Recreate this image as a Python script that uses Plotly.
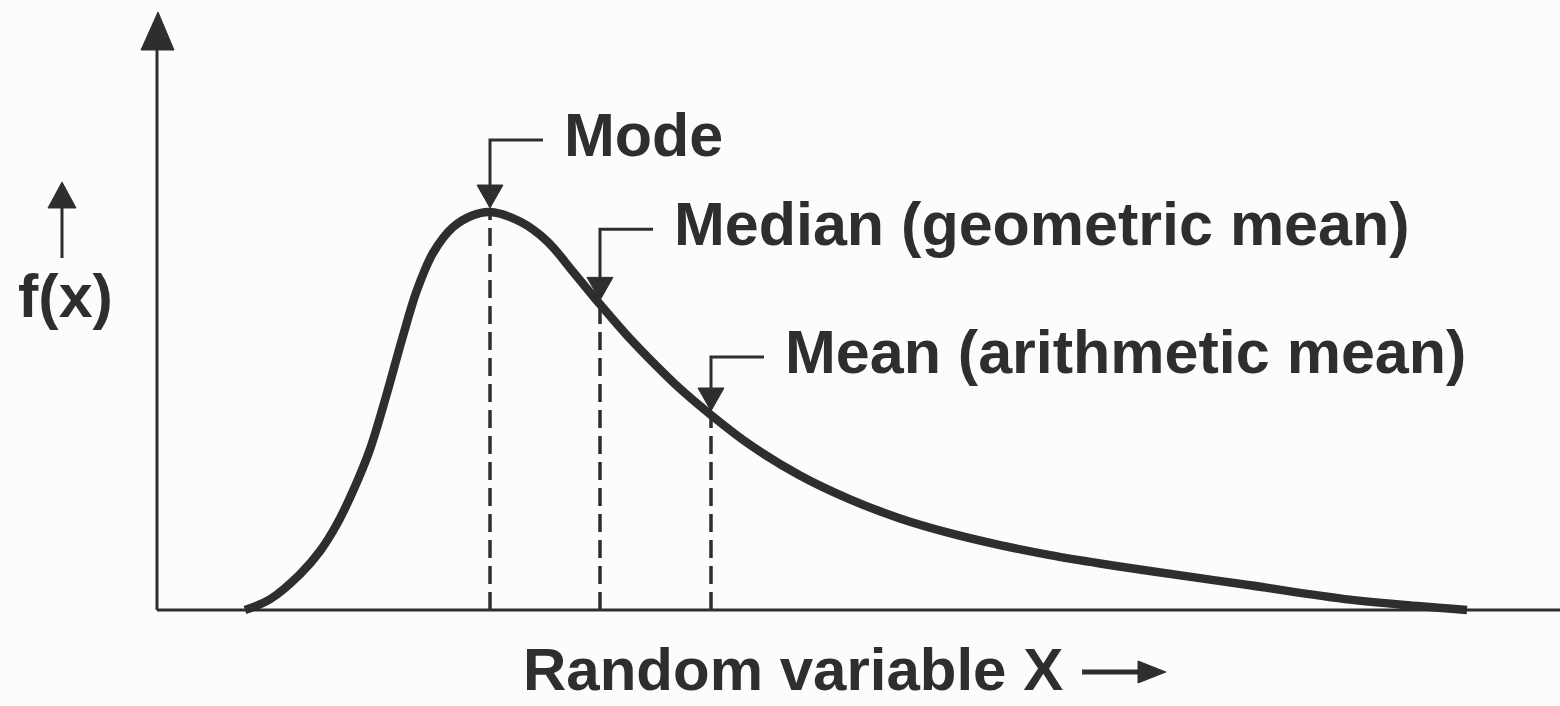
import plotly.graph_objects as go

# Skewed (log-normal shaped) density f(x); x in axis units, f normalised to its peak
curve_x = [0.88, 1.13, 1.43, 1.63, 1.80, 1.96, 2.13, 2.30, 2.45, 2.60, 2.76, 2.96, 3.16, 3.33,
           3.63, 3.90, 4.16, 4.43, 4.70, 4.96, 5.23, 5.54, 5.93, 6.43, 6.93, 7.43, 7.93, 8.43,
           8.93, 9.43, 9.93, 10.93, 11.93, 12.60, 13.10]
curve_y = [0.000, 0.027, 0.090, 0.148, 0.216, 0.299, 0.404, 0.545, 0.680, 0.804, 0.897, 0.962, 0.992, 1.000,
           0.976, 0.927, 0.850, 0.768, 0.690, 0.622, 0.556, 0.490, 0.415, 0.338, 0.278, 0.230, 0.193, 0.163,
           0.138, 0.117, 0.098, 0.062, 0.026, 0.010, 0.000]

# Location statistics marked on the curve
marker_names = ["Mode", "Median (geometric mean)", "Mean (arithmetic mean)"]
marker_x = [3.33, 4.43, 5.54]

y_label = "f(x)"
x_label = "Random variable X"

# ---- page geometry -------------------------------------------------------
W, H = 1560, 706
X0_PX, Y0_PX = 157, 610      # where the origin sits on the page
PX_X, PX_Y = 100.0, 398.0    # pixels per axis unit
INK = "#2e2e2e"
FONT = dict(family="Liberation Sans, Arial, Helvetica, sans-serif", size=61, color=INK, weight="bold")

# bracket arrows: how far above the curve each label sits (px)
label_rise_px = [77, 80, 63]
label_gap_px = 72
bracket_len_px = 53
head_w, head_h = 26, 23


def X(px):
    return (px - X0_PX) / PX_X


def Y(py):
    return (Y0_PX - py) / PX_Y


def px_of(x):
    return X0_PX + x * PX_X


def py_of(y):
    return Y0_PX - y * PX_Y


def tri(points):
    p = [f"{X(a):.4f},{Y(b):.4f}" for a, b in points]
    return "M " + " L ".join(p) + " Z"


marker_y = [curve_y[curve_x.index(m)] for m in marker_x]

fig = go.Figure()

# dashed drop lines from the axis to the curve
for mx, my in zip(marker_x, marker_y):
    fig.add_trace(go.Scatter(x=[mx, mx], y=[0, my - 4 / PX_Y], mode="lines",
                             line=dict(color=INK, width=3.5, dash="18px,8px"),
                             hoverinfo="skip", showlegend=False))

# the density curve
fig.add_trace(go.Scatter(x=curve_x, y=curve_y, mode="lines",
                         line=dict(color=INK, width=8.5, shape="spline", smoothing=1.0),
                         hoverinfo="skip", showlegend=False))

shapes = []
annotations = []

# axes
shapes.append(dict(type="line", xref="x", yref="y", x0=X(157), x1=X(W + 5), y0=0, y1=0,
                   line=dict(color=INK, width=3)))
shapes.append(dict(type="line", xref="x", yref="y", x0=0, x1=0, y0=0, y1=Y(46),
                   line=dict(color=INK, width=3)))
shapes.append(dict(type="path", xref="x", yref="y",
                   path=tri([(X0_PX - 16, 50), (X0_PX + 17, 50), (X0_PX + 1, 12)]),
                   fillcolor=INK, line=dict(color=INK, width=1)))

# bracket arrows + labels
for name, mx, my, rise in zip(marker_names, marker_x, marker_y, label_rise_px):
    cx = px_of(mx)
    cy = py_of(my)
    text_y = cy - rise
    bar_y = text_y + 5
    tip_y = cy - 4
    base_y = tip_y - head_h
    shapes.append(dict(type="path", xref="x", yref="y",
                       path=f"M {X(cx + bracket_len_px):.4f},{Y(bar_y):.4f} L {X(cx):.4f},{Y(bar_y):.4f} "
                            f"L {X(cx):.4f},{Y(base_y + 2):.4f}",
                       line=dict(color=INK, width=3)))
    shapes.append(dict(type="path", xref="x", yref="y",
                       path=tri([(cx - head_w / 2, base_y), (cx + head_w / 2, base_y), (cx, tip_y)]),
                       fillcolor=INK, line=dict(color=INK, width=1)))
    annotations.append(dict(x=X(cx + label_gap_px), y=Y(text_y), xref="x", yref="y",
                            text=name, showarrow=False, xanchor="left", yanchor="middle",
                            font=FONT))

# f(x) label with its small up arrow
fx_cx = 62
annotations.append(dict(x=X(16), y=Y(296), xref="x", yref="y", text=y_label, showarrow=False,
                        xanchor="left", yanchor="middle", font=FONT))
shapes.append(dict(type="line", xref="x", yref="y", x0=X(fx_cx), x1=X(fx_cx), y0=Y(258), y1=Y(204),
                   line=dict(color=INK, width=3)))
shapes.append(dict(type="path", xref="x", yref="y",
                   path=tri([(fx_cx - 14, 208), (fx_cx + 14, 208), (fx_cx, 182)]),
                   fillcolor=INK, line=dict(color=INK, width=1)))

# x label with a right arrow
annotations.append(dict(x=X(523), y=Y(669), xref="x", yref="y", text=x_label, showarrow=False,
                        xanchor="left", yanchor="middle", font=dict(FONT, size=60),
                        borderpad=0, borderwidth=0))
shapes.append(dict(type="line", xref="x", yref="y", x0=X(1082), x1=X(1142), y0=Y(672), y1=Y(672),
                   line=dict(color=INK, width=5)))
shapes.append(dict(type="path", xref="x", yref="y",
                   path=tri([(1138, 661), (1138, 683), (1166, 672)]),
                   fillcolor=INK, line=dict(color=INK, width=1)))

fig.update_layout(
    width=W, height=H,
    margin=dict(l=0, r=0, t=0, b=0),
    paper_bgcolor="#fbfcfc", plot_bgcolor="#fbfcfc",
    xaxis=dict(range=[X(0), X(W)], visible=False, fixedrange=True),
    yaxis=dict(range=[Y(H), Y(0)], visible=False, fixedrange=True),
    shapes=shapes, annotations=annotations,
    showlegend=False,
)

fig.write_html("out.html")
